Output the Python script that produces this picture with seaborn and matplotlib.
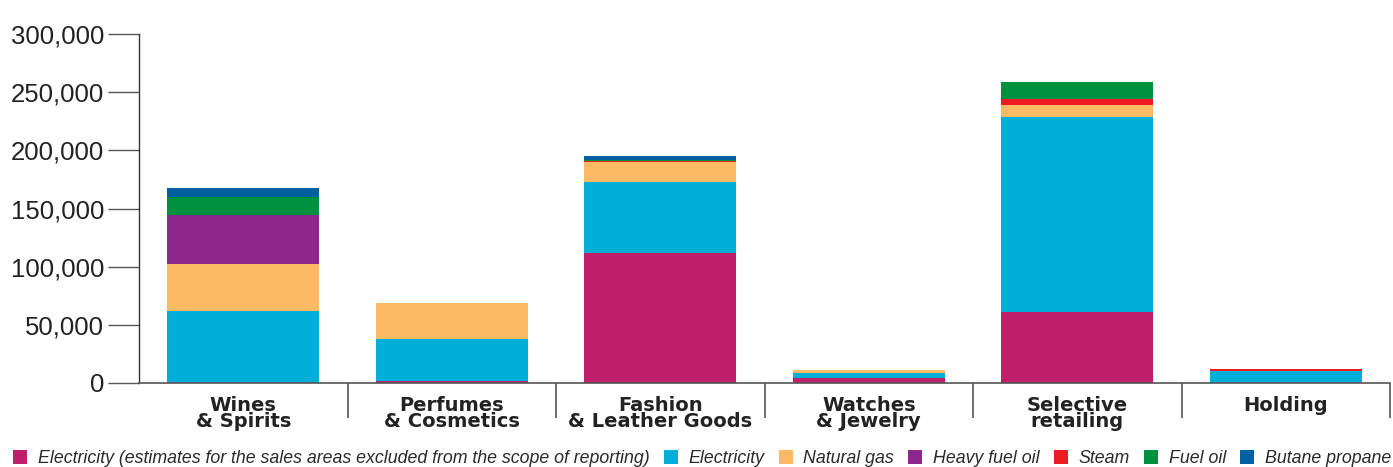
import numpy as np
import pandas as pd
import matplotlib
matplotlib.use("Agg")
import matplotlib.pyplot as plt
import seaborn as sns
from matplotlib.patches import Patch
from matplotlib.ticker import FuncFormatter, MultipleLocator, FixedLocator

categories = ["Wines\n& Spirits", "Perfumes\n& Cosmetics", "Fashion\n& Leather Goods",
              "Watches\n& Jewelry", "Selective\nretailing", "Holding"]

elec_est = [0, 2000, 111900, 4600, 61200, 0]
electricity = [62100, 36000, 61000, 4000, 167500, 10600]
natural_gas = [40400, 30400, 17200, 2300, 10300, 0]
heavy_fuel_oil = [41800, 0, 0, 0, 0, 0]
steam = [0, 0, 900, 0, 5200, 1700]
fuel_oil = [15700, 600, 900, 700, 14600, 0]
butane_propane = [7700, 0, 3400, 0, 0, 0]

series_names = ["Electricity (estimates for the sales areas excluded from the scope of reporting)",
                "Electricity", "Natural gas", "Heavy fuel oil", "Steam", "Fuel oil", "Butane propane"]
series_values = [elec_est, electricity, natural_gas, heavy_fuel_oil, steam, fuel_oil, butane_propane]
colors = ["#C0206A", "#00AFD8", "#FDBA65", "#8E278D", "#ED1C24", "#009140", "#0060A0"]

sns.set_theme(style="white")
plt.rcParams['font.family'] = ['Liberation Sans', 'DejaVu Sans']

fig = plt.figure(figsize=(13.93, 4.67), dpi=100)
ax = fig.add_axes([139/1393, 1-383/467, (1390-139)/1393, (383-34)/467])

cum = np.cumsum(np.array(series_values), axis=0)
# draw from the top of the stack downwards so each segment shows
for i in range(len(series_values)-1, -1, -1):
    df = pd.DataFrame({"cat": categories, "val": cum[i]})
    sns.barplot(data=df, x="cat", y="val", color=colors[i], saturation=1,
                width=0.73, linewidth=0, ax=ax, order=categories)

ax.set_ylim(0, 300000)
ax.set_xlim(-0.5, 5.5)
ax.set_xlabel("")
ax.set_ylabel("")
ax.yaxis.set_major_locator(MultipleLocator(50000))
ax.yaxis.set_major_formatter(FuncFormatter(lambda v, p: f"{int(v):,}"))
for s in ["top", "right"]:
    ax.spines[s].set_visible(False)
ax.spines["left"].set_color("#333333")
ax.spines["left"].set_linewidth(1)
ax.spines["bottom"].set_color("#555555")
ax.spines["bottom"].set_linewidth(1.2)
ax.tick_params(axis="y", which="major", direction="out", length=22, width=1,
               color="#555555", pad=3, labelsize=18.5, labelcolor="#222222", left=True)
ax.tick_params(axis="x", which="major", length=0, pad=9.5)
ax.xaxis.set_minor_locator(FixedLocator([0.5, 1.5, 2.5, 3.5, 4.5, 5.5]))
ax.tick_params(axis="x", which="minor", direction="out", length=25, width=1.2,
               color="#555555", bottom=True)
for lab in ax.get_xticklabels():
    lab.set_fontfamily("DejaVu Sans")
    lab.set_fontweight("heavy")
    lab.set_fontsize(14)
    lab.set_color("#222222")
    lab.set_linespacing(0.8)

handles = [Patch(facecolor=c, edgecolor="none") for c in colors]
leg = fig.legend(handles, series_names, loc="lower left", bbox_to_anchor=(-0.002, -0.035),
                 ncol=7, frameon=False, handlelength=0.78, handleheight=0.78,
                 handletextpad=0.6, columnspacing=0.81,
                 prop={"style": "italic", "size": 12.8})
for t in leg.get_texts():
    t.set_color("#2a2a2a")

fig.savefig("out.png", dpi=100)
